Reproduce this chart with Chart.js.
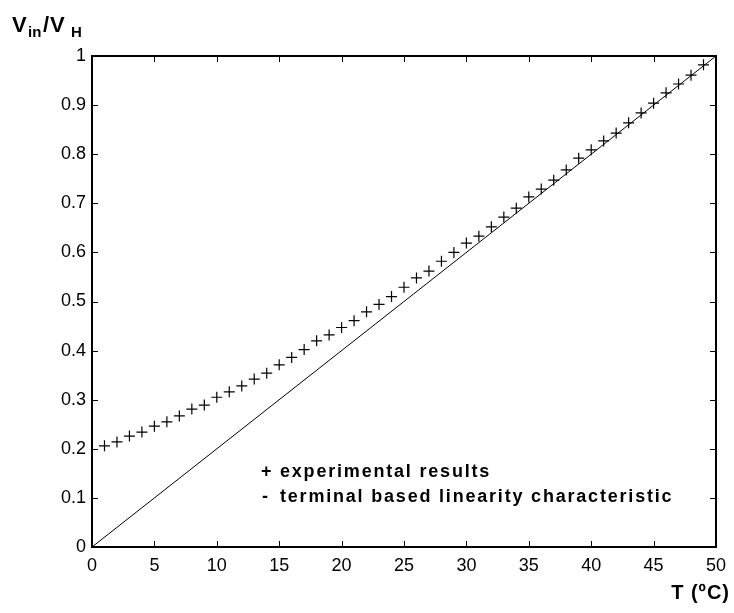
<!DOCTYPE html>
<html>
<head>
<meta charset="utf-8">
<script src="https://cdn.jsdelivr.net/npm/chart.js@4"></script>
<style>
  html, body { margin: 0; padding: 0; background: #fff; }
  #wrap { width: 734px; height: 613px; position: relative; }
</style>
</head>
<body>
<div id="wrap"><canvas id="graficoLinealidad"></canvas></div>
<script>

const temperaturas = [1, 2, 3, 4, 5, 6, 7, 8, 9, 10, 11, 12, 13, 14, 15, 16, 17, 18, 19, 20, 21, 22, 23, 24, 25,
  26, 27, 28, 29, 30, 31, 32, 33, 34, 35, 36, 37, 38, 39, 40, 41, 42, 43, 44, 45, 46, 47, 48, 49];
const experimentales = [0.206, 0.214, 0.226, 0.234, 0.246, 0.255, 0.267, 0.281, 0.289, 0.305,
  0.316, 0.328, 0.342, 0.354, 0.371, 0.386, 0.402, 0.420, 0.432, 0.447,
  0.461, 0.479, 0.494, 0.510, 0.529, 0.548, 0.562, 0.582, 0.600, 0.619,
  0.633, 0.652, 0.672, 0.690, 0.713, 0.729, 0.747, 0.768, 0.792, 0.809,
  0.827, 0.843, 0.864, 0.884, 0.904, 0.925, 0.943, 0.961, 0.982];

// recta terminal: de extremo a extremo
const terminalT = [0, 50];
const terminalV = [0, 1];

const ticksX = [0, 5, 10, 15, 20, 25, 30, 35, 40, 45, 50];
const ticksY = [0, 0.1, 0.2, 0.3, 0.4, 0.5, 0.6, 0.7, 0.8, 0.9, 1];

const fuente = "'Liberation Sans', Arial, Helvetica, sans-serif";

// caja y marcas hacia dentro (estilo matlab) + textos
const marcoPlugin = {
  id: 'marco',
  afterDraw(chart) {
    const ctx = chart.ctx;
    const a = chart.chartArea;
    const sx = chart.scales.x, sy = chart.scales.y;
    const largo = 6;
    ctx.save();
    ctx.strokeStyle = '#000';
    ctx.lineWidth = 1;
    ctx.beginPath();
    ticksX.forEach(v => {
      const px = Math.round(sx.getPixelForValue(v)) + 0.5;
      ctx.moveTo(px, a.bottom); ctx.lineTo(px, a.bottom - largo);
      ctx.moveTo(px, a.top); ctx.lineTo(px, a.top + largo);
    });
    ticksY.forEach(v => {
      const py = Math.round(sy.getPixelForValue(v)) + 0.5;
      ctx.moveTo(a.left, py); ctx.lineTo(a.left + largo, py);
      ctx.moveTo(a.right, py); ctx.lineTo(a.right - largo, py);
    });
    ctx.stroke();
    ctx.lineWidth = 2;
    ctx.strokeRect(a.left, a.top, a.right - a.left, a.bottom - a.top);

    // titulo eje y: V_in / V_H
    ctx.fillStyle = '#000';
    ctx.textBaseline = 'alphabetic';
    ctx.textAlign = 'left';
    ctx.letterSpacing = '0px';
    ctx.font = 'bold 22px ' + fuente;
    ctx.fillText('V', 12, 32);
    ctx.font = 'bold 15px ' + fuente;
    ctx.fillText('in', 28, 37);
    ctx.font = 'bold 22px ' + fuente;
    ctx.fillText('/', 43, 32);
    ctx.fillText('V', 50, 32);
    ctx.font = 'bold 15px ' + fuente;
    ctx.fillText('H', 71, 37);

    // titulo eje x
    ctx.font = 'bold 20px ' + fuente;
    ctx.textAlign = 'right';
    ctx.letterSpacing = '1px';
    ctx.fillText('T (ºC)', 730, 599);

    // leyenda escrita a mano
    ctx.textAlign = 'left';
    ctx.font = 'bold 18px ' + fuente;
    ctx.letterSpacing = '1.8px';
    ctx.fillText('+', 261, 477);
    ctx.fillText('experimental results', 280, 477);
    ctx.fillText('-', 262, 502);
    ctx.fillText('terminal based linearity characteristic', 280, 502);
    ctx.letterSpacing = '0px';
    ctx.restore();
  }
};

const ctx = document.getElementById('graficoLinealidad').getContext('2d');
const chart = new Chart(ctx, {
  type: 'scatter',
  data: {
    datasets: [{
      label: 'experimental results',
      data: temperaturas.map((t, i) => ({x: t, y: experimentales[i]})),
      showLine: false,
      pointStyle: 'cross',
      pointRadius: 5.5,
      pointBorderWidth: 1.2,
      borderColor: '#000',
      backgroundColor: '#000'
    }, {
      label: 'terminal based linearity characteristic',
      data: terminalT.map((t, i) => ({x: t, y: terminalV[i]})),
      showLine: true,
      pointRadius: 0,
      borderWidth: 1,
      borderColor: '#000'
    }]
  },
  options: {
    responsive: true,
    maintainAspectRatio: false,
    animation: false,
    layout: { padding: { top: 56, right: 15, left: 0, bottom: 0 } },
    scales: {
      x: {
        type: 'linear',
        min: 0, max: 50,
        afterBuildTicks: s => { s.ticks = ticksX.map(v => ({value: v})); },
        afterFit: s => { s.height = 66; },
        grid: { display: false, drawTicks: false },
        border: { display: false },
        ticks: { color: '#000', padding: 8, maxRotation: 0, font: { family: fuente, size: 18 } }
      },
      y: {
        type: 'linear',
        min: 0, max: 1,
        afterBuildTicks: s => { s.ticks = ticksY.map(v => ({value: v})); },
        afterFit: s => { s.width = 92; },
        grid: { display: false, drawTicks: false },
        border: { display: false },
        ticks: { color: '#000', padding: 6, font: { family: fuente, size: 18 },
          callback: v => String(Math.round(v * 10) / 10) }
      }
    },
    plugins: {
      legend: { display: false },
      tooltip: { enabled: false }
    }
  },
  plugins: [marcoPlugin]
});

</script>
</body>
</html>
